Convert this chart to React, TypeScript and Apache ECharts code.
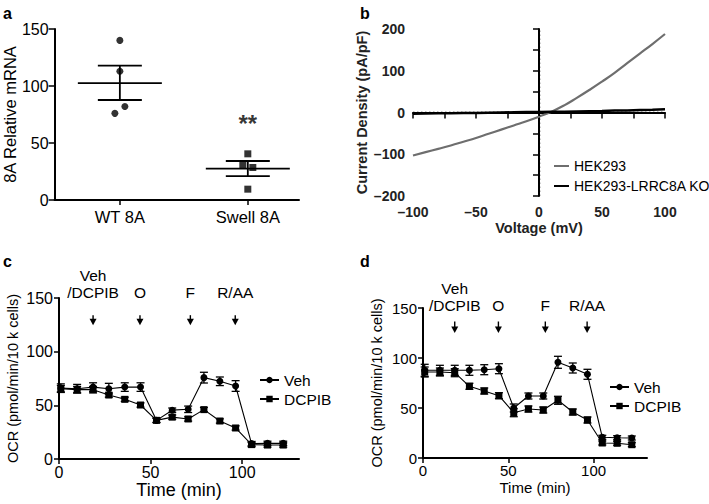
import React, { useEffect, useRef } from 'react';
import * as echarts from 'echarts';

// ---------- Panel a ----------
const groupLabels = ['WT 8A', 'Swell 8A'];
const wtValues = [140, 113, 82, 76];
const swellValues = [40.5, 30.5, 28.5, 9.5];
const groupMean = [102.5, 27.5];
const groupSemLow = [87.7, 21];
const groupSemHigh = [117.8, 34.2];
const sigLabel = '**';
const sigValue = 67;

// ---------- Panel b ----------
const voltage = [-100, -90, -80, -70, -60, -50, -40, -30, -20, -10, 0, 10, 20, 30, 40, 50, 60, 70, 80, 90, 100];
const hek293 = [-103, -95, -87, -79, -70, -61, -51, -41, -31, -21, -10, 2, 17, 35, 54, 74, 95, 118, 141, 164, 188];
const hekKO = [-3, -2.5, -2, -1.5, -1, -1, -0.5, 0, 0.5, 1, 1, 1.5, 2, 2.5, 3, 3.5, 4.5, 5, 6, 6.5, 7.5];

// ---------- Panels c & d ----------
const timeMin = [1, 9.9, 18.6, 27.2, 35.9, 44.5, 53.2, 61.8, 70.5, 79.1, 87.8, 96.4, 105.1, 113.8, 122.4];
const injectionTimes = [18.6, 44.2, 71.7, 96.2];
const injectionLabels = ['Veh\n/DCPIB', 'O', 'F', 'R/AA'];

const cVeh = [66, 65.5, 67, 65.5, 67, 67, 36, 45.5, 46.3, 75.8, 72.4, 68, 14.3, 14.6, 14.6];
const cVehErr = [4, 4, 4, 5, 4, 4, 2, 2, 3, 5, 4, 5, 2, 2, 2];
const cDcpib = [65.5, 64.6, 64.6, 59.6, 55.6, 50.3, 36, 39, 37.3, 46, 35.4, 28.9, 13.4, 13, 13];
const cDcpibErr = [3, 3, 3, 2, 2, 2, 2, 2, 2, 2, 2, 2, 2, 2, 2];

const dVeh = [87.7, 87.7, 87.7, 87.7, 88.3, 89.3, 50, 62, 62, 95.7, 90, 83.7, 20.7, 20.3, 20];
const dVehErr = [6, 5, 5, 5, 5, 5, 4, 3, 3, 6, 5, 5, 2, 2, 2];
const dDcpib = [86, 86, 85.3, 71.7, 67, 62.3, 45.3, 49, 48, 57.7, 46, 38, 15, 14.7, 13.3];
const dDcpibErr = [5, 4, 4, 3, 3, 3, 4, 3, 3, 4, 3, 3, 2, 2, 2];

const FONT = '"Liberation Sans", Arial, Helvetica, sans-serif';

function errorBarSeries(name: string, xi: number, values: number[], errs: number[]) {
  return {
    type: 'custom',
    name: name + '-err',
    xAxisIndex: xi,
    yAxisIndex: xi,
    z: 1,
    silent: true,
    encode: { x: 0, y: [1, 2] },
    data: timeMin.map((t, i) => [t, values[i] - errs[i], values[i] + errs[i]]),
    renderItem: (params: any, api: any) => {
      const x = api.value(0);
      const top = api.coord([x, api.value(2)]);
      const bot = api.coord([x, api.value(1)]);
      const w = 4;
      const st = { stroke: '#000', lineWidth: 1.3 };
      return {
        type: 'group',
        children: [
          { type: 'line', shape: { x1: top[0], y1: top[1], x2: bot[0], y2: bot[1] }, style: st },
          { type: 'line', shape: { x1: top[0] - w, y1: top[1], x2: top[0] + w, y2: top[1] }, style: st },
          { type: 'line', shape: { x1: bot[0] - w, y1: bot[1], x2: bot[0] + w, y2: bot[1] }, style: st },
        ],
      };
    },
  };
}

function annotationSeries(xi: number, arrowTop: number, arrowBottom: number, textGap: number) {
  return {
    type: 'custom',
    xAxisIndex: xi,
    yAxisIndex: xi,
    silent: true,
    clip: false,
    z: 5,
    data: injectionTimes.map((t) => [t, arrowBottom, arrowTop]),
    renderItem: (params: any, api: any) => {
      const x = api.value(0);
      const top = api.coord([x, api.value(2)]);
      const bot = api.coord([x, api.value(1)]);
      return {
        type: 'group',
        children: [
          { type: 'line', shape: { x1: top[0], y1: top[1], x2: bot[0], y2: bot[1] - 4 }, style: { stroke: '#000', lineWidth: 1.4 } },
          { type: 'polygon', shape: { points: [[bot[0] - 3.5, bot[1] - 6.5], [bot[0] + 3.5, bot[1] - 6.5], [bot[0], bot[1]]] }, style: { fill: '#000' } },
          {
            type: 'text',
            x: top[0],
            y: top[1] - textGap,
            style: {
              text: injectionLabels[params.dataIndex],
              fill: '#000',
              font: '15.5px ' + FONT,
              align: 'center',
              verticalAlign: 'bottom',
              lineHeight: 17,
            },
          },
        ],
      };
    },
  };
}

function ocrAxes(xi: number, left: number, top: number, width: number, height: number, xMax: number, xNameSize: number, xNameGap: number, tickSize: number) {
  const axisLine = { show: true, lineStyle: { color: '#000', width: 2 } };
  return {
    grid: { left, top, width, height },
    xAxis: {
      type: 'value',
      gridIndex: xi,
      min: 0,
      max: xMax,
      name: 'Time (min)',
      nameLocation: 'middle',
      nameGap: xNameGap,
      nameTextStyle: { fontSize: xNameSize, color: '#000', fontFamily: FONT },
      axisLine,
      axisTick: { show: true, length: 5, lineStyle: { color: '#000', width: 1.5 }, customValues: [0, 50, 100] },
      axisLabel: { color: '#000', fontSize: tickSize, margin: 5, fontFamily: FONT, customValues: [0, 50, 100] },
      splitLine: { show: false },
    },
    yAxis: {
      type: 'value',
      gridIndex: xi,
      min: 0,
      max: 150,
      interval: 50,
      name: 'OCR (pmol/min/10 k cells)',
      nameLocation: 'middle',
      nameGap: 39,
      nameTextStyle: { fontSize: 14.5, color: '#000', fontFamily: FONT },
      axisLine,
      axisTick: { show: true, length: 5, lineStyle: { color: '#000', width: 1.5 } },
      axisLabel: { color: '#000', fontSize: tickSize, margin: 6, fontFamily: FONT },
      splitLine: { show: false },
    },
  };
}

export default function App() {
  const ref = useRef<HTMLDivElement>(null);
  useEffect(() => {
    if (!ref.current) return;
    const chart = echarts.init(ref.current, undefined, { renderer: 'svg' });
    const axisLine = { show: true, lineStyle: { color: '#000', width: 2 } };

    const c = ocrAxes(2, 59, 298, 240, 161, 131, 18, 21, 16);
    const d = ocrAxes(3, 423, 308, 224, 150, 131.3, 15, 22, 15);

    const wtJitterPx = [0, 0, 5, -5];
    const swellJitterPx = [0, -5, 5, 0];

    const lineLegend = (suffix: string, left: number, top: number) => ({
      data: ['Veh' + suffix, 'DCPIB' + suffix],
      orient: 'vertical',
      left,
      top,
      itemWidth: 19,
      itemHeight: 8,
      itemGap: 3,
      formatter: (n: string) => n.replace(suffix, ''),
      textStyle: { fontSize: 15.5, color: '#000', fontFamily: FONT },
      selectedMode: false,
    });

    const option: any = {
      animation: false,
      backgroundColor: '#fff',
      textStyle: { fontFamily: FONT },
      grid: [
        { left: 53, top: 29, width: 246, height: 171 },
        { left: 413, top: 29, width: 252, height: 167 },
        c.grid,
        d.grid,
      ],
      xAxis: [
        {
          type: 'value',
          gridIndex: 0,
          min: 0.49,
          max: 2.4,
          axisLine,
          axisTick: { show: true, length: 5, lineStyle: { color: '#000', width: 1.5 }, customValues: [1, 2] },
          axisLabel: {
            color: '#000',
            fontSize: 16.5,
            margin: 8,
            fontFamily: FONT,
            customValues: [1, 2],
            formatter: (v: number) => groupLabels[Math.round(v) - 1] ?? '',
          },
          splitLine: { show: false },
        },
        {
          type: 'value',
          gridIndex: 1,
          min: -100,
          max: 100,
          interval: 50,
          name: 'Voltage (mV)',
          nameLocation: 'middle',
          nameGap: 24,
          nameTextStyle: { fontSize: 14.5, fontWeight: 'bold', color: '#222', fontFamily: FONT },
          axisLine,
          axisTick: { show: true, length: 6, lineStyle: { color: '#000', width: 1.5 } },
          minorTick: { show: true, splitNumber: 2, length: 6, lineStyle: { color: '#000', width: 1.5 } },
          axisLabel: {
            color: '#222',
            fontSize: 14,
            fontWeight: 'bold',
            margin: 9,
            fontFamily: FONT,
            formatter: (v: number) => String(v).replace('-', '\u2013'),
          },
          splitLine: { show: false },
        },
        c.xAxis,
        d.xAxis,
      ],
      yAxis: [
        {
          type: 'value',
          gridIndex: 0,
          min: 0,
          max: 150,
          interval: 50,
          name: '8A Relative mRNA',
          nameLocation: 'middle',
          nameGap: 36,
          nameTextStyle: { fontSize: 16.5, color: '#000', fontFamily: FONT },
          axisLine,
          axisTick: { show: true, length: 6, lineStyle: { color: '#000', width: 1.5 } },
          axisLabel: { color: '#000', fontSize: 16, margin: 6, fontFamily: FONT },
          splitLine: { show: false },
        },
        {
          type: 'value',
          gridIndex: 1,
          min: -200,
          max: 200,
          interval: 100,
          name: 'Current Density (pA/pF)',
          nameLocation: 'middle',
          nameGap: 40,
          nameTextStyle: { fontSize: 14.5, fontWeight: 'bold', color: '#222', fontFamily: FONT },
          axisLine,
          axisTick: { show: true, length: 6, lineStyle: { color: '#000', width: 1.5 } },
          minorTick: { show: true, splitNumber: 2, length: 6, lineStyle: { color: '#000', width: 1.5 } },
          axisLabel: {
            color: '#222',
            fontSize: 14,
            fontWeight: 'bold',
            margin: 8,
            fontFamily: FONT,
            formatter: (v: number) => String(v).replace('-', '\u2013'),
          },
          splitLine: { show: false },
        },
        c.yAxis,
        d.yAxis,
      ],
      legend: [
        {
          data: ['HEK293', 'HEK293-LRRC8A KO'],
          orient: 'vertical',
          left: 549,
          top: 154,
          itemWidth: 15,
          itemHeight: 2,
          icon: 'rect',
          itemGap: 6,
          textStyle: { fontSize: 14, color: '#000', fontFamily: FONT },
          selectedMode: false,
        },
        lineLegend(' c', 254, 367),
        lineLegend(' d', 604, 374),
      ],
      graphic: [
        { type: 'text', left: 3, top: 5, style: { text: 'a', font: 'bold 16px ' + FONT, fill: '#000' } },
        { type: 'text', left: 360, top: 5, style: { text: 'b', font: 'bold 16px ' + FONT, fill: '#000' } },
        { type: 'text', left: 3, top: 253, style: { text: 'c', font: 'bold 16px ' + FONT, fill: '#000' } },
        { type: 'text', left: 360, top: 253, style: { text: 'd', font: 'bold 16px ' + FONT, fill: '#000' } },
      ],
      series: [
        // ---- a ----
        {
          type: 'scatter',
          xAxisIndex: 0,
          yAxisIndex: 0,
          symbol: 'circle',
          symbolSize: 7,
          itemStyle: { color: '#000' },
          data: wtValues.map((v, i) => ({ value: [1, v], symbolOffset: [wtJitterPx[i], 0] })),
        },
        {
          type: 'scatter',
          xAxisIndex: 0,
          yAxisIndex: 0,
          symbol: 'rect',
          symbolSize: 7,
          itemStyle: { color: '#000' },
          data: swellValues.map((v, i) => ({ value: [2, v], symbolOffset: [swellJitterPx[i], 0] })),
        },
        {
          type: 'custom',
          xAxisIndex: 0,
          yAxisIndex: 0,
          silent: true,
          encode: { x: 0, y: [1, 2, 3] },
          data: groupMean.map((m, i) => [i + 1, m, groupSemLow[i], groupSemHigh[i]]),
          renderItem: (params: any, api: any) => {
            const x = api.value(0);
            const pm = api.coord([x, api.value(1)]);
            const pl = api.coord([x, api.value(2)]);
            const ph = api.coord([x, api.value(3)]);
            const st = { stroke: '#000', lineWidth: 1.8 };
            return {
              type: 'group',
              children: [
                { type: 'line', shape: { x1: pm[0] - 42, y1: pm[1], x2: pm[0] + 42, y2: pm[1] }, style: st },
                { type: 'line', shape: { x1: ph[0] - 22, y1: ph[1], x2: ph[0] + 22, y2: ph[1] }, style: st },
                { type: 'line', shape: { x1: pl[0] - 22, y1: pl[1], x2: pl[0] + 22, y2: pl[1] }, style: st },
                { type: 'line', shape: { x1: ph[0], y1: ph[1], x2: pl[0], y2: pl[1] }, style: st },
              ],
            };
          },
        },
        {
          type: 'scatter',
          xAxisIndex: 0,
          yAxisIndex: 0,
          symbolSize: 0,
          silent: true,
          data: [[2, sigValue]],
          label: { show: true, position: 'inside', formatter: sigLabel, fontSize: 24, fontWeight: 'bold', color: '#000', fontFamily: FONT },
        },
        // ---- b ----
        {
          type: 'line',
          name: 'HEK293',
          xAxisIndex: 1,
          yAxisIndex: 1,
          showSymbol: false,
          smooth: true,
          color: '#6e6e6e',
          lineStyle: { color: '#6e6e6e', width: 2.2 },
          data: voltage.map((v, i) => [v, hek293[i]]),
          z: 3,
          markLine: {
            silent: true,
            symbol: 'none',
            label: { show: false },
            lineStyle: { color: '#000', type: [1.5, 2.5], width: 1.4 },
            data: [{ xAxis: 0 }, { yAxis: 0 }],
          },
        },
        {
          type: 'line',
          name: 'HEK293-LRRC8A KO',
          xAxisIndex: 1,
          yAxisIndex: 1,
          showSymbol: false,
          color: '#000',
          lineStyle: { color: '#000', width: 2.5 },
          data: voltage.map((v, i) => [v, hekKO[i]]),
          z: 4,
        },
        // ---- c ----
        errorBarSeries('Veh c', 2, cVeh, cVehErr),
        errorBarSeries('DCPIB c', 2, cDcpib, cDcpibErr),
        {
          type: 'line',
          name: 'Veh c',
          xAxisIndex: 2,
          yAxisIndex: 2,
          symbol: 'circle',
          symbolSize: 7,
          color: '#000',
          lineStyle: { color: '#000', width: 1.1 },
          itemStyle: { color: '#000' },
          data: timeMin.map((t, i) => [t, cVeh[i]]),
          z: 3,
        },
        {
          type: 'line',
          name: 'DCPIB c',
          xAxisIndex: 2,
          yAxisIndex: 2,
          symbol: 'rect',
          symbolSize: 7,
          color: '#000',
          lineStyle: { color: '#000', width: 1.1 },
          itemStyle: { color: '#000' },
          data: timeMin.map((t, i) => [t, cDcpib[i]]),
          z: 3,
        },
        annotationSeries(2, 134, 124.5, 14),
        // ---- d ----
        errorBarSeries('Veh d', 3, dVeh, dVehErr),
        errorBarSeries('DCPIB d', 3, dDcpib, dDcpibErr),
        {
          type: 'line',
          name: 'Veh d',
          xAxisIndex: 3,
          yAxisIndex: 3,
          symbol: 'circle',
          symbolSize: 7,
          color: '#000',
          lineStyle: { color: '#000', width: 1.1 },
          itemStyle: { color: '#000' },
          data: timeMin.map((t, i) => [t, dVeh[i]]),
          z: 3,
        },
        {
          type: 'line',
          name: 'DCPIB d',
          xAxisIndex: 3,
          yAxisIndex: 3,
          symbol: 'rect',
          symbolSize: 7,
          color: '#000',
          lineStyle: { color: '#000', width: 1.1 },
          itemStyle: { color: '#000' },
          data: timeMin.map((t, i) => [t, dDcpib[i]]),
          z: 3,
        },
        annotationSeries(3, 136.5, 125, 8),
      ],
    };
    chart.setOption(option);
    return () => chart.dispose();
  }, []);
  return <div ref={ref} style={{ position: 'fixed', left: 0, top: 0, width: 709, height: 504 }} />;
}
